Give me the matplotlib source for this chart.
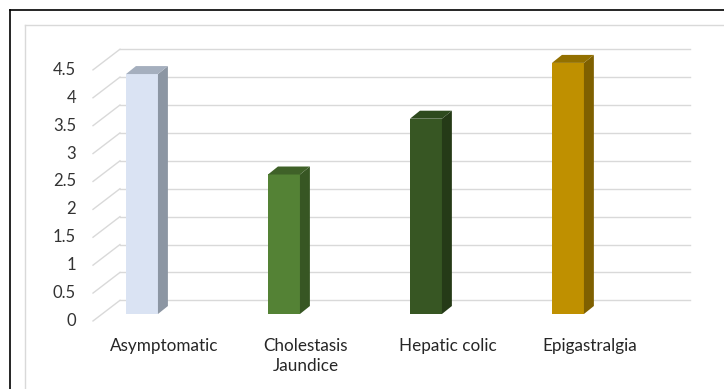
import numpy as np
import matplotlib
matplotlib.use("Agg")
import matplotlib.pyplot as plt
from matplotlib.patches import Polygon
from matplotlib.lines import Line2D

# datos del grafico
categorias = ["Asymptomatic", "Cholestasis\nJaundice", "Hepatic colic", "Epigastralgia"]
valores = [4.3, 2.5, 3.5, 4.5]
ticks_y = np.arange(0, 5.0, 0.5)
etiquetas_y = ["0", "0.5", "1", "1.5", "2", "2.5", "3", "3.5", "4", "4.5"]

color_frente = ["#DAE3F3", "#548235", "#375623", "#BF9000"]
color_lado = ["#8C96A3", "#375623", "#253A17", "#7F6000"]
color_tapa = ["#A5AFBE", "#3F6128", "#2E4A1E", "#937000"]

plt.rcParams['font.family'] = ['Lato', 'DejaVu Sans']

fig = plt.figure(figsize=(7.24, 3.89), dpi=100)
ax = fig.add_axes([0, 0, 1, 1])
ax.set_xlim(-1, 4.099)
ax.set_ylim(-1.344, 5.627)
ax.axis("off")

# profundidad falsa 3D
ancho = 0.225
dx, dy = 0.07, 0.143        # lado de la barra
fondo_y, frente_y = 0.245, -0.125
fondo_x0, fondo_x1, frente_x = -0.155, 3.863, -0.345

# lineas de la pared del fondo y diagonales
for t in ticks_y:
    ax.plot([fondo_x0, fondo_x1], [t + fondo_y, t + fondo_y], color="#D9D9D9", lw=1.0, zorder=1)
    ax.plot([frente_x, fondo_x0], [t + frente_y, t + fondo_y], color="#D9D9D9", lw=1.0, zorder=1)

for t, lab in zip(ticks_y, etiquetas_y):
    ax.text(frente_x - 0.12, t + frente_y, lab, ha="right", va="center",
            fontsize=12, color="#333333")

x = np.arange(len(valores))
ax.bar(x, valores, width=ancho, color=color_frente, zorder=3)

for i, v in enumerate(valores):
    der = x[i] + ancho / 2
    izq = x[i] - ancho / 2
    lado = Polygon([(der, 0), (der + dx, dy), (der + dx, v + dy), (der, v)],
                   closed=True, facecolor=color_lado[i], edgecolor="none", zorder=3)
    tapa = Polygon([(izq, v), (der, v), (der + dx, v + dy), (izq + dx, v + dy)],
                   closed=True, facecolor=color_tapa[i], edgecolor="none", zorder=3)
    ax.add_patch(lado)
    ax.add_patch(tapa)

for i, cat in enumerate(categorias):
    ax.text(x[i] + 0.155, -0.43, cat, ha="center", va="top", fontsize=12.3,
            color="#262626", linespacing=1.3)

# bordes
fig.add_artist(Line2D([25 / 724, 25 / 724], [0, 1 - 25 / 389], color="#D9D9D9", lw=1.0))
fig.add_artist(Line2D([25 / 724, 1], [1 - 25 / 389, 1 - 25 / 389], color="#D9D9D9", lw=1.0))
fig.add_artist(Line2D([10 / 724, 10 / 724], [0, 1 - 10 / 389], color="black", lw=1.2))
fig.add_artist(Line2D([10 / 724, 1], [1 - 10 / 389, 1 - 10 / 389], color="black", lw=1.2))

fig.savefig("out.png", dpi=100, facecolor="white")
